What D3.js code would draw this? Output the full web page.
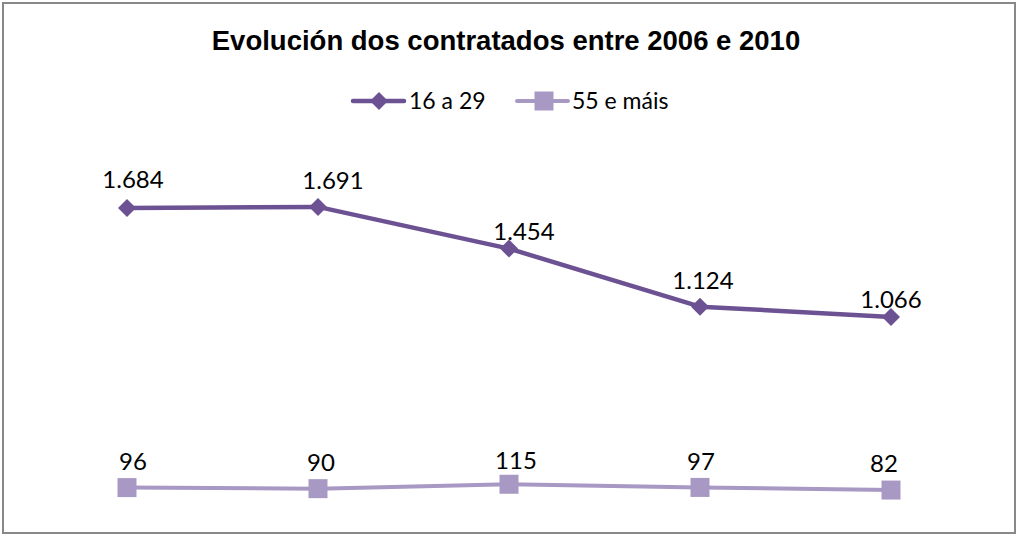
<!DOCTYPE html>
<html><head><meta charset="utf-8">
<script src="https://cdn.jsdelivr.net/npm/d3@7"></script>
<style>html,body{margin:0;padding:0;background:#fff;}svg{display:block;}</style>
</head><body>
<svg id="c" width="1018" height="536"></svg>
<script>
const categories = ["2006","2007","2008","2009","2010"];
const young = [1684, 1691, 1454, 1124, 1066];
const senior = [96, 90, 115, 97, 82];
const labelsYoung = ["1.684","1.691","1.454","1.124","1.066"];
const labelsSenior = ["96","90","115","97","82"];
const seriesNames = ["16 a 29", "55 e máis"];
const title = "Evolución dos contratados entre 2006 e 2010";

// label nudges (layout only)
const youngDx = [6, 15, 15, 3, 0], youngDy = [-20, -18, -9, -18, -9];
const seniorDx = [6, 3, 7, 1, -7], seniorDy = [-18, -18, -15, -17, -18];

const dark = "#6c5292", light = "#a898c4";
const svg = d3.select("#c");
svg.append("rect").attr("x",3).attr("y",3).attr("width",1012).attr("height",530)
  .attr("fill","#fff").attr("stroke","#888").attr("stroke-width",2);

svg.append("text").attr("x",506).attr("y",50).attr("text-anchor","middle")
  .attr("font-family","Liberation Sans, Arial, sans-serif").attr("font-weight","bold")
  .attr("font-size",27.5).attr("fill","#000").text(title);

const x = d3.scalePoint().domain(categories).range([127, 891]);
const y = d3.scaleLinear().domain([0, 1800]).range([504.5, 187.7]);
const font = "Lato, Carlito, sans-serif";

function drawSeries(vals, labels, dx, dy, color, sw, shape, size) {
  const line = d3.line().x((d,i)=>x(categories[i])).y(d=>y(d));
  svg.append("path").datum(vals).attr("d", line).attr("fill","none")
    .attr("stroke", color).attr("stroke-width", sw).attr("stroke-linejoin","round");
  svg.selectAll(null).data(vals).enter().append("path")
    .attr("transform",(d,i)=>`translate(${x(categories[i])},${y(d)})`)
    .attr("d", d3.symbol().type(shape).size(size)).attr("fill", color);
  svg.selectAll(null).data(vals).enter().append("text")
    .attr("x",(d,i)=>x(categories[i]) + dx[i]).attr("y",(d,i)=>y(d) + dy[i])
    .attr("text-anchor","middle").attr("font-family",font).attr("font-size",24)
    .attr("fill","#000").text((d,i)=>labels[i]);
}
const diamond = { draw(ctx, s){ const r=Math.sqrt(s)/2; ctx.moveTo(0,-r); ctx.lineTo(r,0); ctx.lineTo(0,r); ctx.lineTo(-r,0); ctx.closePath(); } };
drawSeries(young, labelsYoung, youngDx, youngDy, dark, 4.5, diamond, 18*18);
drawSeries(senior, labelsSenior, seniorDx, seniorDy, light, 4, d3.symbolSquare, 19*19);

// legend
const lg = svg.append("g");
function legendItem(x0, x1, cx, tx, color, sw, shape, size, name) {
  lg.append("line").attr("x1",x0).attr("x2",x1).attr("y1",101).attr("y2",101)
    .attr("stroke",color).attr("stroke-width",sw).attr("stroke-linecap","round");
  lg.append("path").attr("transform",`translate(${cx},101)`)
    .attr("d", d3.symbol().type(shape).size(size)).attr("fill",color);
  lg.append("text").attr("x",tx).attr("y",109).attr("font-family",font)
    .attr("font-size",23).attr("fill","#000").text(name);
}
legendItem(353, 404, 379, 409, dark, 4.5, diamond, 18*18, seriesNames[0]);
legendItem(517, 568, 544, 572, light, 4, d3.symbolSquare, 19*19, seriesNames[1]);
</script>
</body></html>
